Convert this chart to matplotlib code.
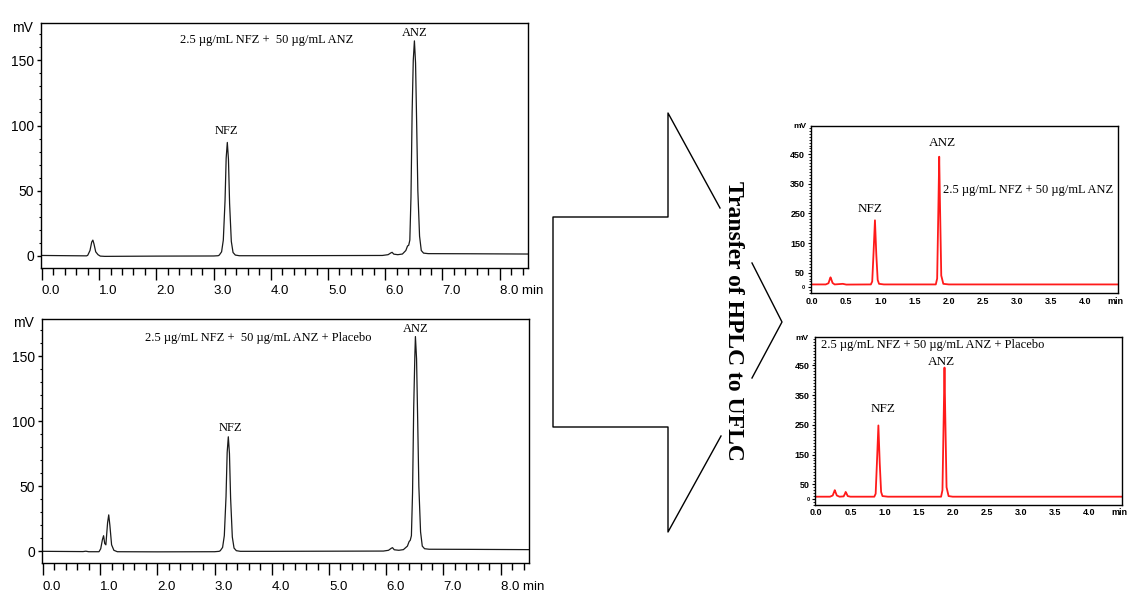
import matplotlib
matplotlib.use('Agg')
import matplotlib.pyplot as plt
from matplotlib.ticker import MultipleLocator

# ---- data ----------------------------------------------------------------
# HPLC, 2.5 ug/mL NFZ + 50 ug/mL ANZ (min, mV)
hplc_mix_t = [0.0, 0.5, 0.78, 0.80, 0.84, 0.87, 0.89, 0.91, 0.94, 0.98, 1.02, 1.10, 2.0, 3.0, 3.08,
              3.10, 3.14, 3.17, 3.20, 3.22, 3.24, 3.26, 3.28, 3.31, 3.34, 3.38, 3.45, 4.0, 5.0, 5.95,
              6.05, 6.10, 6.12, 6.15, 6.22, 6.30, 6.36, 6.39, 6.41, 6.43, 6.45, 6.47, 6.49, 6.51,
              6.53, 6.55, 6.57, 6.60, 6.63, 6.67, 6.75, 7.5, 8.49]
hplc_mix_mv = [0.2, 0.0, -0.1, 0.3, 4, 10.5, 12, 9, 3, 0.8, -0.3, -0.5, -0.3, -0.2, 0,
               0.5, 3, 12, 42, 75, 87, 74, 40, 11, 2.5, 0.5, 0, 0, 0.1, 0.2,
               0.8, 2.2, 2.6, 1.2, 0.8, 1.3, 4, 7.5, 8, 12, 45, 110, 150, 165,
               148, 100, 50, 15, 4, 2, 1.6, 1.5, 1.3]

# HPLC, same mix + placebo
hplc_plc_t = [0.0, 0.7, 0.75, 0.8, 0.98, 1.01, 1.04, 1.06, 1.08, 1.10, 1.13, 1.15, 1.17, 1.20, 1.24,
              1.30, 2.0, 3.0, 3.08, 3.10, 3.14, 3.17, 3.20, 3.22, 3.24, 3.26, 3.28, 3.31, 3.34,
              3.38, 3.45, 4.0, 5.0, 5.95, 6.04, 6.09, 6.11, 6.14, 6.22, 6.30, 6.37, 6.40, 6.42,
              6.44, 6.46, 6.48, 6.50, 6.51, 6.53, 6.55, 6.57, 6.60, 6.63, 6.67, 6.75, 7.5, 8.49]
hplc_plc_mv = [0.0, -0.2, 0.1, -0.3, -0.3, 2, 9, 12, 6, 5, 22, 28, 20, 5, 0.8,
               -0.3, -0.4, -0.3, 0, 0.5, 3, 12, 42, 76, 88, 75, 41, 11, 2.5,
               0.5, 0, 0, 0.1, 0.2, 0.8, 2.4, 2.8, 1.2, 0.8, 1.3, 4, 7.5, 8.5,
               12, 45, 110, 150, 165, 148, 100, 50, 15, 4, 2, 1.6, 1.5, 1.3]

# UFLC, mix
uflc_mix_t = [0.0, 0.20, 0.24, 0.26, 0.27, 0.28, 0.30, 0.33, 0.45, 0.50, 0.86, 0.88, 0.90, 0.92,
              0.94, 0.96, 0.98, 1.05, 1.81, 1.83, 1.85, 1.86, 1.87, 1.89, 1.92, 2.0, 4.48]
uflc_mix_mv = [10, 10, 14, 28, 34, 28, 15, 10, 12, 9.5, 10, 20, 120, 227,
               110, 25, 12, 10, 10, 30, 300, 442, 300, 40, 12, 10, 10]

# UFLC, mix + placebo
uflc_plc_t = [0.0, 0.20, 0.24, 0.26, 0.27, 0.28, 0.30, 0.34, 0.40, 0.42, 0.43, 0.44, 0.46, 0.50,
              0.85, 0.87, 0.89, 0.91, 0.93, 0.95, 0.97, 1.05, 1.83, 1.85, 1.87, 1.88, 1.89, 1.91,
              1.94, 2.0, 4.48]
uflc_plc_mv = [8, 8, 12, 24, 30, 24, 12, 8, 9, 18, 24, 20, 10, 8,
               8, 18, 130, 248, 120, 24, 10, 8, 8, 30, 300, 443, 300, 40,
               10, 8, 8]

hplc_xticks = [0, 1, 2, 3, 4, 5, 6, 7, 8]
hplc_xlabels = ['0.0', '1.0', '2.0', '3.0', '4.0', '5.0', '6.0', '7.0', '8.0 min']
hplc_yticks = [0, 50, 100, 150]
uflc_xticks = [0, 0.5, 1.0, 1.5, 2.0, 2.5, 3.0, 3.5, 4.0, 4.44]
uflc_xlabels = ['0.0', '0.5', '1.0', '1.5', '2.0', '2.5', '3.0', '3.5', '4.0', 'min']
uflc_yticks = [0, 50, 150, 250, 350, 450]

title_mix = '2.5 µg/mL NFZ +  50 µg/mL ANZ'
title_plc = '2.5 µg/mL NFZ +  50 µg/mL ANZ + Placebo'
title_mix_r = '2.5 µg/mL NFZ + 50 µg/mL ANZ'
title_plc_r = '2.5 µg/mL NFZ + 50 µg/mL ANZ + Placebo'

W, H = 1136, 609
SERIF = 'Liberation Serif'
SANS = 'Liberation Sans'

fig = plt.figure(figsize=(W / 100, H / 100), dpi=100)


def box(l, t, r, b):
    return [l / W, 1 - b / H, (r - l) / W, (b - t) / H]


def ftext(x, y, s, **kw):
    fig.text(x / W, 1 - y / H, s, **kw)


# overlay for the arrow and its caption
ov = fig.add_axes([0, 0, 1, 1])
ov.set_xlim(0, W)
ov.set_ylim(H, 0)
ov.axis('off')
arrow_a = [(720, 208), (668, 113), (668, 217), (553, 217), (553, 427), (668, 427), (668, 532), (721, 436)]
arrow_b = [(752, 263), (782, 322), (752, 378)]
for seg in (arrow_a, arrow_b):
    ov.plot([p[0] for p in seg], [p[1] for p in seg], color='black', lw=1.0)
ov.text(734, 321, 'Transfer of HPLC to UFLC', rotation=270, ha='center', va='center',
        fontsize=17, fontweight='bold', family=SERIF)


def hplc_panel(rect, t, mv, title, title_xy, nfz_xy, anz_xy, mv_xy):
    ax = fig.add_axes(rect)
    ax.plot(t, mv, color='#1a1a1a', lw=0.9)
    ax.set_xlim(-0.025, 8.49)
    ax.set_ylim(-9.2, 178.5)
    ax.set_xticks(hplc_xticks)
    ax.set_xticklabels(hplc_xlabels, ha='left', fontsize=9.5, family=SANS)
    ax.xaxis.set_minor_locator(MultipleLocator(0.2))
    ax.set_yticks(hplc_yticks)
    ax.set_yticklabels([str(v) for v in hplc_yticks], fontsize=10, family=SANS)
    ax.yaxis.set_minor_locator(MultipleLocator(10))
    ax.tick_params(axis='x', which='major', length=8.4, width=1, pad=4.2)
    ax.tick_params(axis='x', which='minor', length=5.2, width=1)
    ax.tick_params(axis='y', which='major', length=3, width=1, pad=1.5)
    ax.tick_params(axis='y', which='minor', length=1.2, width=0.8)
    for sp in ax.spines.values():
        sp.set_linewidth(1.0)
    ax.text(*title_xy, title, ha='center', va='center', fontsize=9, family=SERIF)
    ax.text(*nfz_xy, 'NFZ', ha='center', va='center', fontsize=9, family=SERIF)
    ax.text(*anz_xy, 'ANZ', ha='center', va='center', fontsize=9, family=SERIF)
    ftext(*mv_xy, 'mV', ha='right', va='center', fontsize=10, family=SANS)
    return ax


def uflc_panel(rect, t, mv, title, title_xy, title_ha, nfz_xy, anz_xy, mv_xy):
    ax = fig.add_axes(rect)
    ax.plot(t, mv, color='#ff1a1a', lw=1.3)
    ax.set_xlim(-0.02, 4.48)
    ax.set_ylim(-20, 546)
    ax.set_xticks(uflc_xticks)
    ax.set_xticklabels(uflc_xlabels, fontsize=6.5, fontweight='bold', family=SANS)
    ax.set_yticks(uflc_yticks)
    ax.set_yticklabels([str(v) for v in uflc_yticks], fontsize=6.5, fontweight='bold', family=SANS)
    ax.get_yticklabels()[0].set_fontsize(4)
    ax.yaxis.set_minor_locator(MultipleLocator(10))
    ax.tick_params(axis='x', which='major', length=0, pad=2.5)
    ax.tick_params(axis='y', which='major', length=2.5, width=0.8, pad=1.5)
    ax.tick_params(axis='y', which='minor', length=1.3, width=0.6)
    for sp in ax.spines.values():
        sp.set_linewidth(1.0)
    ax.text(*title_xy, title, ha=title_ha, va='center', fontsize=9, family=SERIF)
    ax.text(*nfz_xy, 'NFZ', ha='center', va='center', fontsize=9.5, family=SERIF)
    ax.text(*anz_xy, 'ANZ', ha='center', va='center', fontsize=9.5, family=SERIF)
    ftext(*mv_xy, 'mV', ha='right', va='center', fontsize=6, fontweight='bold', family=SANS)
    return ax


hplc_panel(box(40.5, 23.3, 527.7, 267.7), hplc_mix_t, hplc_mix_mv, title_mix,
           (3.92, 165.5), (3.22, 96), (6.52, 171.4), (33, 28))
hplc_panel(box(41.5, 319, 528.7, 563.3), hplc_plc_t, hplc_plc_mv, title_plc,
           (3.77, 163.8), (3.27, 94.6), (6.51, 170.5), (34, 323))

uflc_panel(box(810.7, 126, 1118.3, 293.3), uflc_mix_t, uflc_mix_mv, title_mix_r,
           (1.91, 329), 'left', (0.85, 264), (1.90, 487), (806, 127))
uflc_panel(box(815, 337, 1121.7, 505), uflc_plc_t, uflc_plc_mv, title_plc_r,
           (0.07, 520), 'left', (0.985, 305), (1.84, 463), (809, 338))

fig.savefig('out.png', dpi=100)
